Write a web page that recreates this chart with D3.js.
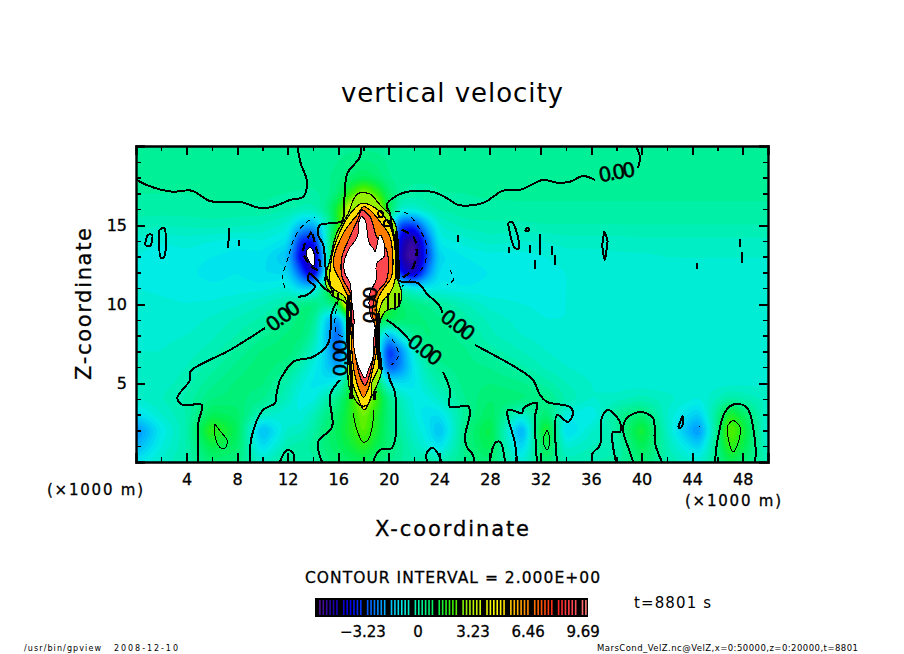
<!DOCTYPE html>
<html><head><meta charset="utf-8">
<script src="https://cdn.jsdelivr.net/npm/d3@7"></script>
<style>
html,body{margin:0;padding:0;background:#fff;}
svg{display:block;}
text{font-family:"DejaVu Sans",sans-serif;fill:#000;}
</style></head><body>
<script>
// ---------- data (x, z in km; w in m/s) ----------
const gridX=[0,2,4,6,8,10,12,13,14,15,16,17,18,19,20,21,22,23,24,26,28,30.5,32.4,34,36,38,40,42,44.5,46,47,50];
const gridZ=[20,18,17,16,15,14,13,12,11,10,9,8,7,6,5,4,3,2,1,0];
const gridW=[
[.1,.1,.1,.1,.1,.1,.1,.1,.1,.1,.1,.1,.1,.1,.1,.1,.1,.1,.1, .1,.1,.1,.1,.1,.1,.1,.1,.1,.1,.1,.1,.1],
[.1,.1,.1,.1,.1,.08,.08,.08,.08,.15,.3,.6,.8,.6,.2,.08,.05,.05,.05, .05,.05,.05,.05,.05,.05,.05,.05,.05,.08,.08,.08,.08],
[0,0,0,.05,.05,.05,0,-.02,-.05,.05,.5,1.8,3,2,.6,0,-.08,-.08,0, 0,.03,.03,.03,.03,.03,.03,.03,.03,.03,.03,.03,.03],
[-.1,-.1,-.08,-.05,-.05,-.05,-.15,-.25,-.3,.2,1.5,4,5,4,1,-.6,-.6,-.3,-.15, -.05,-.05,-.03,-.03,-.03,-.03,-.03,-.03,-.03,-.03,-.03,-.03,-.03],
[-.3,-.35,-.35,-.3,-.35,-.4,-.7,-1.7,-2,-.6,1.5,5,7,5,-.5,-3.4,-3.4,-1.8,-.6, -.3,-.25,-.25,-.2,-.2,-.2,-.2,-.2,-.2,-.2,-.2,-.2,-.2],
[-.7,-.8,-.7,-.8,-.9,-.8,-1.1,-3.6,-4,-.8,2.5,6,8,6,-1,-4.6,-5.6,-3,-.9, -.7,-.5,-.6,-.6,-.5,-.5,-.5,-.45,-.45,-.45,-.45,-.45,-.45],
[-.8,-.9,-.9,-1,-1.1,-1.1,-1.7,-4.2,-5.4,-1.2,3,8,8,8,-1.2,-5,-5.9,-3.4,-1.3, -1,-.9,-.9,-.8,-.7,-.7,-.65,-.65,-.6,-.6,-.6,-.6,-.6],
[-.85,-.9,-.95,-1.1,-1,-1.2,-1.3,-3,-5,-1,3,8,8,8,-.4,-4.2,-5,-2.6,-1.1, -1.1,-1,-1,-.9,-.8,-.75,-.75,-.7,-.7,-.65,-.65,-.65,-.65],
[-.8,-.85,-.9,-.95,-.9,-.9,-.7,-1.4,-1.4,.6,3,8,8,8,1,-.3,-.8,-1,-.9, -1,-.95,-.9,-.85,-.8,-.75,-.75,-.7,-.7,-.7,-.7,-.7,-.7],
[-.7,-.75,-.8,-.75,-.65,-.4,-.1,.4,.5,.1,1,6,8,6,1.5,.6,.4,.2,0, -.35,-.7,-.8,-.85,-.8,-.75,-.75,-.7,-.7,-.7,-.7,-.7,-.7],
[-.7,-.7,-.7,-.55,-.35,-.15,.25,.5,.3,-1.4,-2.6,1,8,1,.9,.7,.5,.4,.25, -.1,-.45,-.7,-.8,-.8,-.75,-.7,-.7,-.7,-.7,-.7,-.7,-.7],
[-.65,-.65,-.6,-.45,-.2,.15,.45,.5,0,-1.6,-3.2,0,8,0,-2,-.6,.2,.45,.35, .1,-.35,-.6,-.7,-.75,-.75,-.7,-.7,-.7,-.7,-.7,-.7,-.7],
[-.6,-.6,-.5,-.3,.05,.45,.55,.2,-.5,-1.4,-3.2,0,8,0,-3.8,-2.4,-.6,.1,.35, .25,-.1,-.4,-.6,-.7,-.7,-.7,-.7,-.7,-.7,-.7,-.7,-.7],
[-.55,-.55,-.4,-.1,.3,.55,.25,-.3,-.85,-1.4,-2.2,0,8,0,-3.2,-2.4,-1,-.2,.15, .3,.2,-.15,-.45,-.6,-.7,-.7,-.75,-.75,-.75,-.7,-.7,-.7],
[-.5,-.5,-.3,.15,.45,.45,-.2,-.7,-1.1,-1.1,-.7,1,6,1,-1,-1.2,-1.1,-.5,-.15, .3,.4,.25,-.1,-.4,-.6,-.75,-.75,-.75,-.75,-.7,-.7,-.65],
[-.6,-.4,-.15,.4,.5,.25,-.4,-.95,-.95,-.2,.3,1.5,3.5,2,.3,-.4,-.9,-.9,-.5, .2,.6,.5,.3,-.2,-.6,-.5,-.3,-.5,-.8,-.4,-.1,-.5],
[-1.2,-.6,-.2,.9,.7,-.4,-.8,-.8,-.4,.3,.7,1.5,2.6,1.5,.4,-.2,-.8,-1.2,-1.2, .1,.8,-.6,.6,-.8,-1.1,.1,.6,-.6,-1.5,.2,1.6,-.7],
[-2.5,-1,-.2,1.9,.9,-1.9,-.5,-.5,-.1,.5,.9,1.5,2.4,1.4,.4,-.1,-.6,-1,-1.8, .3,1.2,-2.2,1.8,-1.4,-.6,-.1,1.5,-.5,-2.5,.3,2.6,-.9],
[-1.9,-.8,-.2,1.1,.7,-1.3,-.2,-.1,.1,.5,.8,1.2,1.7,1,.5,.1,-.4,-.8,-1.2, .3,1,-1.5,1.1,-.7,-.4,-.3,1,-.3,-1.5,.3,1.9,-.6],
[-1,-.5,-.2,.5,.3,-.5,.2,-.2,-.1,.3,.5,.7,.9,.5,.2,0,-.2,.1,-.2, .2,.5,-.7,.6,-.3,-.2,-.1,.5,-.2,-.6,.2,.9,-.3]
];
// saturated plume bands, traced: [value, [x,z]...]
const plumeBands=[
[2.8,[[17.59,17],[18.51,16.96],[19.3,16.27],[19.96,15.74],[20.49,15.11],[20.75,13.63],[20.75,11.52],[21.02,10.68],[20.75,9.83],[19.83,9.6],[19.35,9],[19.25,7.3],[19.45,5.82],[18.9,4.56],[18.64,4.14],[18.3,3.6],[17.7,3.6],[17.2,4.14],[16.85,4.77],[16.75,6.03],[16.72,8.36],[16.6,10.04],[15.48,10.57],[14.95,11.52],[15.35,12.79],[15.87,14.47],[16.8,15.74],[17.19,16.58]]],
[5,[[17.85,16.37],[18.77,16.16],[19.83,15.32],[20.36,14.26],[20.49,11.52],[20.09,10.68],[19.57,10.25],[19.2,9.4],[19.14,8],[19.1,6.88],[19.2,6.03],[18.64,4.98],[18.6,4.2],[18.05,3.3],[17.5,4.2],[17.06,5.19],[16.9,6.88],[16.82,9.41],[16.5,10.46],[15.45,11.1],[15.45,12.79],[16.2,14.69],[17.19,15.95]]],
[6.6,[[17.98,16.16],[18.51,15.95],[19.3,15.21],[20.09,14.26],[20.22,11.73],[19.7,11.1],[19.1,10.25],[19.06,8.36],[19,6.88],[18.6,5.4],[18.4,4.7],[18,4.1],[17.6,4.7],[17.2,6.03],[17,8.36],[16.95,10.04],[16.27,11.31],[15.6,12.58],[16.4,14.47],[17.59,15.74]]],
[9,[[17.85,15.95],[18.51,15.53],[19.04,14.26],[19.83,13.42],[19.83,11.52],[19.04,10.68],[18.7,9.41],[18.95,8.4],[18.85,6.88],[18.25,4.98],[18.1,4.85],[17.72,5.4],[17.32,6.88],[17.1,8.5],[17.06,9.41],[16.95,10.68],[16.3,11.73],[16.3,13],[16.93,14.26],[17.59,15.42]]]
];
const whiteRegions=[
[[17.85,15.53],[18.12,15.32],[18.46,13.84],[18.77,13.52],[18.91,13.31],[19.3,14.37],[19.62,13.84],[19.62,13],[19.04,12.58],[18.99,11.52],[18.51,10.68],[18.51,9.41],[18.91,8.57],[18.83,7.93],[18.77,6.67],[18.38,5.82],[18.12,5.3],[17.72,5.82],[17.32,6.88],[17.19,7.72],[17.25,8.99],[17.06,10.25],[16.93,11.31],[16.53,11.94],[16.45,12.58],[16.8,13.42],[17.51,14.26],[17.67,15.32]],
[[13.63,13.52],[13.9,13.52],[14.16,12.79],[14.03,12.41],[13.63,12.79],[13.45,13.21]]
];
// zero contour, traced
const zeroLines=[
[[0,17.89],[.85,17.53],[2.82,17.11],[4.41,17.17],[5.85,16.52],[7.44,16.46],[8.23,16.47],[9.81,16.08],[10.84,16.16],[12.18,16.58],[13.24,16.79],[13.5,17.85],[13.03,18.9],[12.76,20]],
[[17.78,20],[17.72,19.32],[16.72,18.27],[16.53,17.22],[16.38,15.32],[16.27,15.21],[15.61,15.11],[14.56,15],[14.42,14.37],[14.82,13.74],[14.95,12.79],[15.08,11.73],[15.48,10.78],[15.08,10.89],[14.29,11.52],[13.71,11.94],[13.63,11.52],[14.16,11.1],[13.5,10.57],[12.84,10.46]],
[[10.21,8.48],[7.44,7.09],[4.27,5.7],[4.27,5.19],[3.27,4.05],[3.72,3.61],[5.2,3.61],[4.93,2.47],[4.93,0]],
[[9.02,0],[9.15,1.6],[10.05,3.29],[11,3.73],[11.13,4.37],[11.39,5.19],[11.53,5.4],[12.45,6.35],[14.03,6.66],[15.21,7.51],[15.48,9.41],[15.88,10.15]],
[[19.83,8.99],[20.23,8.78],[21.15,8.15],[21.68,7.66]],
[[24.29,5.7],[24.84,4.56],[24.84,3.5],[26.27,3.54],[26.42,3.1],[26.03,1.6],[26.16,.97],[26.66,.44],[26.74,0]],
[[24.26,9.41],[24.05,9.83],[22.99,10.68],[22.33,11.31],[20.75,11.52],[20.62,13.21],[20.22,15.11],[20.09,15.74],[19.83,16.27],[21.12,17.03],[23.5,17.09],[24.84,16.58],[25.47,16.27],[27.45,16.39],[29.03,17.17],[30.38,17.22],[32.2,17.85],[33.31,17.68],[34.34,17.74],[35.36,18.1],[36.31,17.85]],
[[39.7,18.61],[39.87,19.24],[39.56,20]],
[[26.82,7.41],[30.38,5.82],[31.41,5.19],[31.96,4.24],[32.52,3.8],[34.34,3.48],[34.57,3.1],[34.18,2.53],[33.31,2.97],[33.31,0]],
[[28,0],[28.4,1.2],[28.8,1.27],[29.19,0]],
[[30.14,0],[29.98,1.2],[29.43,3.29],[30.54,3.1],[30.64,3.4],[31.72,3.73],[31.57,2.85],[31.72,0]],
[[36.08,0],[36.15,.57],[36.71,1.08],[36.87,2.85],[37.34,3.29],[38.29,2.53],[38.29,1.9],[37.74,1.9],[37.97,0]],
[[39.32,0],[39.08,.63],[38.53,2.03],[38.84,2.78],[39.87,3.16],[40.9,2.78],[41.06,1.2],[41.61,0]],
[[45.81,0],[45.97,1.2],[46.6,3.16],[47.39,3.67],[48.34,3.42],[48.99,1.2],[48.99,0]],
[[11.39,0],[11.95,.76],[12.42,.57],[12.5,0]],
[[14.72,0],[14.4,1.27],[15.51,2.22],[15.35,4.24],[16.14,5.19]],
[[18.75,0],[19.3,.76],[20.25,.89],[20.49,4.37],[20.09,5.19],[19.94,5.7]],
[[23.02,0],[23.02,.63],[23.5,.89],[24.21,0]],
[[42.9,2.2],[43.25,2.9],[43.3,2.5],[43.05,2.15],[42.9,2.2]],
[[.71,13.73],[.95,14.37],[1.27,14.37],[1.11,13.67],[.71,13.73]],
[[1.82,14.68],[2.22,14.81],[2.22,12.97],[1.98,12.91],[1.82,14.68]],
[[7.36,14.81],[7.3,13.54]],[[8.15,14.05],[8.15,13.67]],
[[29.43,15.13],[29.75,15.19],[30.3,13.54],[29.98,13.54],[29.43,15.13]],
[[30.75,14.7],[31,14.8],[31.1,14.7],[30.9,14.6],[30.75,14.7]],
[[25.47,14.37],[25.47,13.95]],[[29.5,13.6],[29.5,13.2]],[[31.17,13.73],[31.17,13.2]],
[[31.96,14.4],[31.96,13.1]],[[31.57,12.8],[31.57,12.2]],[[32.9,13.7],[32.9,13.1]],[[33.15,13.1],[33.15,12.5]],
[[37.05,14.6],[37.3,14],[37.2,13.3],[37.1,12.8],[36.9,13.6],[37.05,14.6]],
[[44.38,12.6],[44.38,12.2]],[[47.78,14.1],[47.78,13.6]],[[47.95,13.3],[47.95,12.6]],
[[19.96,10.68],[19.96,9.62]],[[20.49,10.68],[20.49,9.62]],[[20.83,10.68],[20.83,9.83]],
[[15.61,10.9],[15.61,10.46]],[[16,10.68],[16,10.25]],
[[19.17,15.85],[19.43,15.85],[19.57,15.57],[19.25,15.49],[19.17,15.85]],
[[19.7,15.32],[20.09,15.21],[20.04,14.94],[19.65,15],[19.7,15.32]]
];
// dense overlapping contours along the plume edge, traced as one heavy stroke
const plumeEdges=[
[[16.88,10.57],[16.72,8.99],[16.85,6.88],[17.06,5.19],[17,4]],
[[19.17,9.41],[19.15,7.93],[19.25,6.46],[19.43,5.82]],
[[20.6,14.6],[20.7,13],[20.75,11.6]],
[[18.9,4.5],[18.85,3.9]]
];
// level +2 contours, traced
const thinLines=[
[[6.25,2.41],[6.65,1.96],[7.2,1.39],[7.12,.95],[6.88,.82],[6.49,1.08],[6.25,1.65],[6.25,2.41]],
[[17.17,3.1],[17.48,2.03],[17.96,1.27],[18.35,1.39],[18.67,2.15],[18.83,3.29]],
[[32.52,2.03],[32.75,1.39],[32.52,.76],[32.2,1.39],[32.52,2.03]],
[[47.23,2.66],[47.78,2.22],[47.63,1.2],[47.23,.63],[46.84,1.58],[46.84,2.34],[47.23,2.66]],
[[44.54,2.2],[44.65,2.3]]
];
// negative contours, traced
const dashedLines=[
[[11.79,11],[11.6,11.63],[12.05,13],[12.58,14.26],[13.37,15.1],[14.16,15.49]],
[[20.49,15.85],[21.41,15.74],[22.47,14.69],[22.99,13.63],[22.73,12.37],[21.02,11.1]],
[[16,10.25],[15.74,8.99],[15.87,8.14],[16.4,7.93]],
[[19.7,8.14],[20.49,7.51],[20.75,6.67],[20.22,6.14]],
[[24.84,12.15],[25.1,11.52],[24.58,11.2]]
];
const dashedHeavy=[
[[13.9,14.58],[13.37,13.84],[13.24,13.21],[13.9,12.36],[14.56,12.15],[14.16,13.84],[13.9,14.58]],
[[21.02,14.69],[21.94,14.26],[22.2,13.21],[21.81,12.15],[21.02,11.63]]
];
const contourLabels=[
{t:"0.00",x:11.63,z:9.24,a:-37},{t:"0.00",x:25.47,z:8.67,a:38},{t:"0.00",x:22.86,z:7.09,a:38},
{t:"0.00",x:38.05,z:18.35,a:-10},{t:"0.00",x:16.14,z:6.58,a:-90},{t:"0.00",x:18.51,z:9.94,a:-90}
];
const xMajor=[4,8,12,16,20,24,28,32,36,40,44,48];
const xMinor=[2,6,10,14,18,22,26,30,34,38,42,46];
const zMajor=[5,10,15];
const zMinor=[1,2,3,4,6,7,8,9,11,12,13,14,16,17,18,19];
const barTicks=[-3.23,0,3.23,6.46,9.69];
const colorValues=[-6,-5,-4,-3,-2,-1,0,1,2,3,4,4.5,6,7,8,9,10];
const colorHex=["#5a1496","#1e00aa","#0000f0","#005aff","#00aaff","#00ebeb","#00f0a0","#00f050","#3cf000","#aaf000","#e6f500","#ffff00","#ffa000","#ff6400","#ff1e1e","#ff4650","#ff8282"];

// ---------- scales ----------
const W=904,H=654;
const x=d3.scaleLinear().domain([0,50]).range([136,768]);
const y=d3.scaleLinear().domain([0,20]).range([462,146]);
const color=d3.scaleLinear().domain(colorValues).range(colorHex).clamp(true);
const barX=d3.scaleLinear().domain([-6.04,9.97]).range([315,588]);

const svg=d3.select("body").append("svg").attr("width",W).attr("height",H).attr("viewBox",[0,0,W,H]);
svg.append("rect").attr("width",W).attr("height",H).attr("fill","#fff");
const defs=svg.append("defs");
defs.append("clipPath").attr("id","plot").append("rect").attr("x",136).attr("y",146).attr("width",632).attr("height",316);
defs.append("filter").attr("id","soft").attr("x","-10%").attr("y","-10%").attr("width","120%").attr("height","120%")
  .append("feGaussianBlur").attr("stdDeviation",0.7);
const plot=svg.append("g").attr("clip-path","url(#plot)");

// ---------- field: sample the table on a raster, shade with d3.contours ----------
const nx=316,nz=158;
const zAsc=gridZ.slice().reverse();
function sample(px,pz){
  const i=Math.min(gridX.length-2,Math.max(0,d3.bisectRight(gridX,px)-1));
  const j=Math.min(zAsc.length-2,Math.max(0,d3.bisectRight(zAsc,pz)-1));
  const tx=(px-gridX[i])/(gridX[i+1]-gridX[i]),tz=(pz-zAsc[j])/(zAsc[j+1]-zAsc[j]);
  const r0=gridW[gridZ.length-1-j],r1=gridW[gridZ.length-2-j];
  return (r0[i]*(1-tx)+r0[i+1]*tx)*(1-tz)+(r1[i]*(1-tx)+r1[i+1]*tx)*tz;
}
const cells=new Float64Array(nx*nz);
for(let r=0;r<nz;r++)for(let c=0;c<nx;c++){
  cells[r*nx+c]=sample(x.invert(136+(c+.5)*2),y.invert(146+(r+.5)*2));
}
d3.blur2({data:cells,width:nx,height:nz},1);
const thresholds=d3.range(-6,10.01,0.2);
const contours=d3.contours().size([nx,nz]).thresholds(thresholds).smooth(true)(cells);
const toPlot=d3.geoPath(d3.geoTransform({point(a,b){this.stream.point(136+a*2,146+b*2);}}));
plot.append("rect").attr("x",136).attr("y",146).attr("width",632).attr("height",316).attr("fill",color(-6));
plot.append("g").selectAll("path").data(contours).join("path")
  .attr("d",toPlot).attr("fill",d=>color(d.value+.1));

// ---------- plume bands ----------
const line=d3.line().x(d=>x(d[0])).y(d=>y(d[1])).curve(d3.curveCatmullRom.alpha(.5));
const closed=d3.line().x(d=>x(d[0])).y(d=>y(d[1])).curve(d3.curveCatmullRomClosed.alpha(.5));
plot.append("g").attr("filter","url(#soft)").selectAll("path").data(plumeBands).join("path")
  .attr("d",d=>closed(d[1])).attr("fill",d=>color(d[0]));
plot.append("g").selectAll("path").data(plumeBands).join("path")
  .attr("d",d=>closed(d[1])).attr("fill","none").attr("stroke","#000").attr("stroke-width",1.2).attr("shape-rendering","crispEdges");
plot.append("g").selectAll("path").data(whiteRegions).join("path")
  .attr("d",closed).attr("fill","#fff").attr("stroke","#000").attr("stroke-width",1).attr("shape-rendering","crispEdges");

// ---------- contour lines ----------
const lines=plot.append("g").attr("fill","none").attr("stroke","#000").attr("stroke-linejoin","round").attr("shape-rendering","crispEdges");
lines.append("g").selectAll("path").data(thinLines).join("path").attr("d",line).attr("stroke-width",1);
lines.append("g").selectAll("path").data(dashedLines).join("path").attr("d",line).attr("stroke-width",1).attr("stroke-dasharray","5 4");
lines.append("g").selectAll("path").data(dashedHeavy).join("path").attr("d",line).attr("stroke-width",2.2).attr("stroke-dasharray","8 5");
lines.append("g").selectAll("path").data(zeroLines).join("path").attr("d",line).attr("stroke-width",2);
lines.append("g").selectAll("path").data(plumeEdges).join("path").attr("d",line).attr("stroke-width",3.5);

svg.append("g").selectAll("text").data(contourLabels).join("text")
  .attr("transform",d=>`translate(${x(d.x)},${y(d.z)}) rotate(${d.a})`)
  .attr("text-anchor","middle").attr("dominant-baseline","central")
  .attr("font-size",20).attr("stroke","#000").attr("stroke-width",.5).attr("textLength",37).text(d=>d.t);

// ---------- axes ----------
function fmt(){return "";}
const fs=16;
const axes=svg.append("g");
function style(g){
  g.selectAll("path.domain").attr("stroke","#000").attr("stroke-width",2.4);
  g.selectAll("line").attr("stroke","#000").attr("stroke-width",2).attr("shape-rendering","crispEdges");
  g.selectAll("text").attr("font-size",fs).attr("font-family",'"DejaVu Sans",sans-serif').attr("fill","#000").attr("stroke","#000").attr("stroke-width",.3);
}
function minorStyle(g){
  g.selectAll("path.domain").remove();
  g.selectAll("line").attr("stroke","#000").attr("stroke-width",1.4).attr("shape-rendering","crispEdges");
}
axes.append("g").attr("transform","translate(0,462)").call(d3.axisBottom(x).tickValues(xMajor).tickSize(-9).tickPadding(12).tickFormat(d3.format("d"))).call(style);
axes.append("g").attr("transform","translate(0,146)").call(d3.axisTop(x).tickValues(xMajor).tickSize(-9).tickFormat(fmt)).call(style);
axes.append("g").attr("transform","translate(136,0)").call(d3.axisLeft(y).tickValues(zMajor).tickSize(-9).tickPadding(9).tickFormat(d3.format("d"))).call(style);
axes.append("g").attr("transform","translate(768,0)").call(d3.axisRight(y).tickValues(zMajor).tickSize(-9).tickFormat(fmt)).call(style);
axes.append("g").attr("transform","translate(0,462)").call(d3.axisBottom(x).tickValues(xMinor).tickSize(-5).tickFormat(fmt)).call(minorStyle);
axes.append("g").attr("transform","translate(0,146)").call(d3.axisTop(x).tickValues(xMinor).tickSize(-5).tickFormat(fmt)).call(minorStyle);
axes.append("g").attr("transform","translate(136,0)").call(d3.axisLeft(y).tickValues(zMinor).tickSize(-5).tickFormat(fmt)).call(minorStyle);
axes.append("g").attr("transform","translate(768,0)").call(d3.axisRight(y).tickValues(zMinor).tickSize(-5).tickFormat(fmt)).call(minorStyle);

// ---------- text ----------
function label(s,xp,yp,size,len,opts={}){
  const t=svg.append("text").attr("x",xp).attr("y",yp).attr("font-size",size).text(s);
  if(len)t.attr("textLength",len).attr("lengthAdjust","spacing");
  if(opts.rot)t.attr("transform",`rotate(${opts.rot} ${xp} ${yp})`);
  if(opts.bold)t.attr("stroke","#000").attr("stroke-width",opts.bold);
  return t;
}
label("vertical velocity",341,102,26,222);
label("X-coordinate",375,536,21,154,{bold:.3});
label("Z-coordinate",91,380,21,152,{rot:-90,bold:.3});
label("(×1000 m)",47,495,15,96,{bold:.3});
label("(×1000 m)",685,506,15,96,{bold:.3});
label("CONTOUR INTERVAL = 2.000E+00",305,583,15.5,295,{bold:.3});
label("t=8801 s",634,608,15,77);
label("/usr/bin/gpview",24,651,8,77);
label("2008-12-10",114,651,8,64);
label("MarsCond_VelZ.nc@VelZ,x=0:50000,z=0:20000,t=8801",597,651,8.5,261);

// ---------- colour bar ----------
const bar=svg.append("g");
bar.append("rect").attr("x",315).attr("y",598).attr("width",273).attr("height",19).attr("fill","#000");
const stripes=d3.range(-5.8,9.9,0.2).filter((d,i)=>i%7!==6);
bar.selectAll("rect.s").data(stripes).join("rect").attr("class","s")
  .attr("x",d=>barX(d)).attr("y",600).attr("width",1.6).attr("height",15).attr("fill",d=>color(d));
bar.selectAll("text").data(barTicks).join("text")
  .attr("x",d=>barX(d)).attr("y",637).attr("text-anchor","middle").attr("font-size",15).attr("stroke","#000").attr("stroke-width",.3)
  .text(d=>d===0?"0":(d<0?"−":"")+Math.abs(d).toFixed(2));
</script>
</body></html>
